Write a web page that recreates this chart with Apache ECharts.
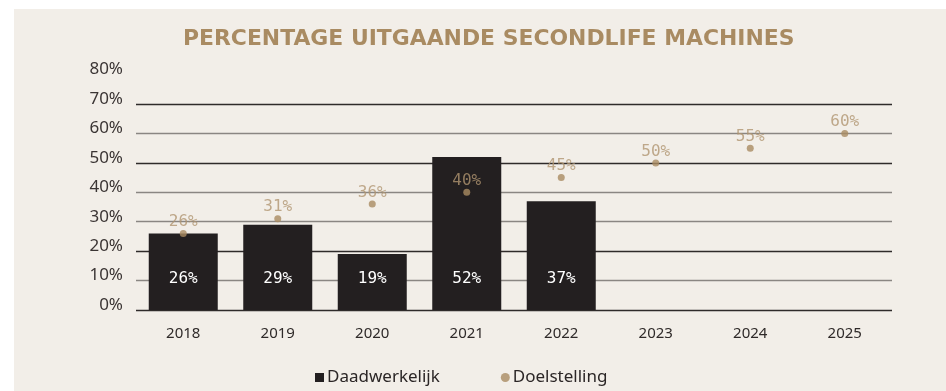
<!DOCTYPE html>
<html>
<head>
<meta charset="utf-8">
<script src="https://cdn.jsdelivr.net/npm/echarts@6/dist/echarts.min.js"></script>
<style>
  html, body { margin: 0; padding: 0; background: #ffffff; }
  #chart { width: 946px; height: 391px; }
</style>
</head>
<body>
<div id="chart"></div>
<script>
// Years on the category axis
const years = ['2018', '2019', '2020', '2021', '2022', '2023', '2024', '2025'];
// Realised share of outgoing second-life machines (%)
const actual = [26, 29, 19, 52, 37, null, null, null];
// Target share (%)
const target = [26, 31, 36, 40, 45, 50, 55, 60];
// Y-axis scale
const yMin = 0, yMax = 80, yStep = 10;

const GOLD = '#a98b62';
const DARK = '#231f20';
const BG = '#f2eee8';
const MONO = '"DejaVu Sans Mono", monospace';

const chart = echarts.init(document.getElementById('chart'), null, { renderer: 'canvas' });

chart.setOption({
  backgroundColor: '#ffffff',
  animation: false,
  graphic: [{
    type: 'rect',
    left: 14, top: 9, z: -100,
    shape: { width: 932, height: 382 },
    style: { fill: BG }
  }],
  title: {
    text: 'PERCENTAGE UITGAANDE SECONDLIFE MACHINES',
    left: 178,
    top: 23,
    textStyle: {
      fontFamily: '"DejaVu Sans"', fontWeight: 'bold', fontSize: 21.9,
      color: GOLD
    }
  },
  legend: {
    left: 310, top: 364,
    itemWidth: 9, itemHeight: 9, itemGap: 61,
    textStyle: { fontFamily: 'Noto Sans', fontSize: 17, color: '#2b2626', padding: [0, 0, 0, -2] },
    data: [
      { name: 'Daadwerkelijk', icon: 'rect' },
      { name: 'Doelstelling', icon: 'circle' }
    ]
  },
  grid: { left: 136, right: 54, top: 74.6, bottom: 81 },
  xAxis: {
    type: 'category',
    data: years,
    axisLine: { show: false },
    axisTick: { show: false },
    axisLabel: { fontFamily: 'Noto Sans', fontSize: 15, color: '#2f2a29', margin: 16 }
  },
  yAxis: {
    type: 'value',
    min: yMin, max: yMax, interval: yStep,
    axisLine: { show: false },
    axisTick: { show: false },
    axisLabel: {
      formatter: '{value}%',
      fontFamily: 'Noto Sans', fontSize: 17, color: '#3b3534',
      margin: 13, verticalAlign: 'bottom', lineHeight: 10
    },
    splitLine: {
      showMaxLine: false,
      lineStyle: {
        color: ['#2f2b2a', '#8a8682', '#2f2b2a', '#8a8682', '#8a8682', '#2f2b2a', '#8a8682', '#2f2b2a'],
        width: 1.4
      }
    }
  },
  series: [
    {
      name: 'Daadwerkelijk',
      type: 'bar',
      data: actual,
      barWidth: 69,
      itemStyle: { color: DARK },
      label: {
        show: true,
        position: 'insideBottom',
        distance: 23,
        formatter: '{c}%',
        fontFamily: MONO, fontSize: 16,
        color: '#ffffff'
      },
      z: 2
    },
    {
      name: 'Doelstelling',
      type: 'scatter',
      data: target,
      symbol: 'circle',
      symbolSize: 7,
      itemStyle: { color: GOLD },
      label: {
        show: true,
        position: 'top',
        distance: 0,
        formatter: '{c}%',
        fontFamily: MONO, fontSize: 16,
        color: '#b09570'
      },
      z: 3
    }
  ]
});
</script>
</body>
</html>
